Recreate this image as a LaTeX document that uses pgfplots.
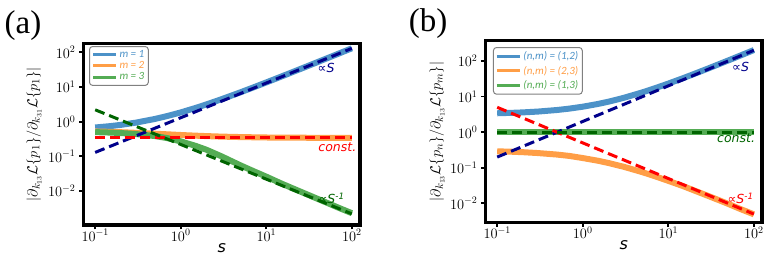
\documentclass[border=0pt]{standalone}
\usepackage{pgfplots}
\pgfplotsset{compat=1.18}
\usepackage{fontspec}
\setsansfont{Carlito}
\newfontfamily\panelfont{Liberation Serif}
\newfontfamily\labelfont{DejaVu Sans}

\definecolor{cblue}{RGB}{76,146,200}
\definecolor{corange}{RGB}{255,158,70}
\definecolor{cgreen}{RGB}{84,172,84}
\definecolor{navyd}{RGB}{0,0,139}
\definecolor{redd}{RGB}{255,0,0}
\definecolor{greend}{RGB}{0,100,0}

\pgfplotsset{
  every axis/.append style={
    scale only axis,
    width=276.5pt,
    xmin=0.073, xmax=124.5,
    axis line style={line width=3.5pt, black, line cap=rect},
    tick align=outside, tick pos=left,
    major tick length=4.5pt,
    every tick/.style={black, line width=1.8pt},
    xminorticks=false, yminorticks=false,
    xtick={0.1,1,10,100}, ytick={0.01,0.1,1,10,100},
    tick label style={font=\fontsize{14}{14}\selectfont},
    xticklabel style={yshift=3.5pt},
    xlabel={s},
    xlabel style={at={(axis description cs:0.5,0)}, anchor=center, yshift=-23pt,
      font=\labelfont\itshape\fontsize{16}{16}\selectfont},
    ylabel style={anchor=center, font=\fontsize{15}{15}\selectfont},
    legend style={anchor=north west, draw=gray, line width=1pt,
      rounded corners=3pt, fill=white, inner sep=2pt,
      font=\sffamily\itshape\fontsize{11}{11}\selectfont,
      cells={anchor=west}},
  },
  thickcurve/.style={line width=6pt, line cap=butt},
  guideline/.style={line width=3pt, dash pattern=on 10pt off 5pt, forget plot},
}
\pgfplotsset{legend image code/.code={\draw[#1, line width=3pt, solid] (0pt,0pt) -- (23pt,0pt);}}
\tikzset{note/.style={font=\labelfont\itshape\fontsize{12.5}{12.5}\selectfont}}

\begin{document}
\begin{tikzpicture}
\path[use as bounding box] (0pt,0pt) rectangle (776pt,261pt);

% ---------------- panel (a) ----------------
\begin{loglogaxis}[
  at={(83.5pt,36pt)}, anchor=south west,
  height=181.5pt,
  ymin=0.00105, ymax=179.5,
  ylabel={$|\partial_{k_{13}}\mathcal{L}\{p_1\}/\partial_{k_{31}}\mathcal{L}\{p_1\}|$},
  ylabel style={at={(axis description cs:-0.179,0.5)}},
  legend style={at={(axis description cs:0.02,0.986)}, row sep=-1.5pt},
]
\addplot[thickcurve, cblue] coordinates {
 (0.1,0.68) (0.15,0.745) (0.2,0.81) (0.3,0.94) (0.5,1.2) (0.7,1.46)
 (1,1.85) (1.5,2.5) (2,3.15) (3,4.45) (5,7.05) (7,9.65) (10,13.55)
 (15,20.05) (20,26.55) (30,39.55) (50,65.55) (70,91.55) (100,130.55)};
\addlegendentry{\textcolor{cblue}{m = 1}}
\addplot[thickcurve, corange] coordinates {
 (0.1,0.523) (0.15,0.509) (0.2,0.497) (0.3,0.477) (0.5,0.45) (0.7,0.432)
 (1,0.413) (1.5,0.395) (2,0.384) (3,0.371) (5,0.36) (7,0.355) (10,0.35)
 (15,0.347) (20,0.345) (30,0.344) (50,0.342) (70,0.3415) (100,0.341)};
\addlegendentry{\textcolor{corange}{m = 2}}
\addplot[thickcurve, cgreen] coordinates {
 (0.1,0.50) (0.15,0.485) (0.2,0.47) (0.3,0.44) (0.5,0.385) (0.7,0.335)
 (1,0.27) (1.5,0.2) (2,0.155) (3,0.1) (5,0.055) (7,0.038) (10,0.026)
 (15,0.0165) (20,0.0122) (30,0.008) (50,0.0047) (70,0.0033) (100,0.0023)};
\addlegendentry{\textcolor{cgreen}{m = 3}}
% asymptotes
\addplot[guideline, navyd] coordinates {(0.1,0.13) (100,130)};
\addplot[guideline, redd] coordinates {(0.1,0.34) (100,0.34)};
\addplot[guideline, greend] coordinates {(0.1,2.2) (100,0.0022)};
\node[note, navyd] at (axis cs:50,35) {∝S};
\node[note, redd] at (axis cs:67.6,0.186) {const.};
\node[note, greend] at (axis cs:58,0.0062) {∝S\textsuperscript{-1}};
\end{loglogaxis}

% ---------------- panel (b) ----------------
\begin{loglogaxis}[
  at={(485.5pt,38.5pt)}, anchor=south west,
  height=182pt,
  ymin=0.0029, ymax=377,
  ylabel={$|\partial_{k_{13}}\mathcal{L}\{p_n\}/\partial_{k_{13}}\mathcal{L}\{p_m\}|$},
  ylabel style={at={(axis description cs:-0.175,0.5)}},
  legend style={at={(axis description cs:0.027,0.964)}, row sep=1pt},
]
\addplot[thickcurve, cblue] coordinates {
 (0.1,3.4) (0.15,3.5) (0.2,3.6) (0.3,3.8) (0.5,4.2) (0.7,4.6)
 (1,5.2) (1.5,6.2) (2,7.2) (3,9.2) (5,13.2) (7,17.2) (10,23.2)
 (15,33.2) (20,43.2) (30,63.2) (50,103.2) (70,143.2) (100,203.2)};
\addlegendentry{\textcolor{cblue}{(n,m) = (1,2)}}
\addplot[thickcurve, corange] coordinates {
 (0.1,0.29) (0.15,0.282) (0.2,0.274) (0.3,0.259) (0.5,0.235) (0.7,0.215)
 (1,0.1875) (1.5,0.158) (2,0.136) (3,0.107) (5,0.075) (7,0.0577) (10,0.0429)
 (15,0.0303) (20,0.0231) (30,0.0158) (50,0.0097) (70,0.0069) (100,0.00492)};
\addlegendentry{\textcolor{corange}{(n,m) = (2,3)}}
\addplot[thickcurve, cgreen] coordinates {(0.1,1) (1,1) (10,1) (100,1)};
\addlegendentry{\textcolor{cgreen}{(n,m) = (1,3)}}
% asymptotes
\addplot[guideline, navyd] coordinates {(0.1,0.2) (100,200)};
\addplot[guideline, redd] coordinates {(0.1,5) (100,0.005)};
\addplot[guideline, greend] coordinates {(0.1,1) (100,1)};
\node[note, navyd] at (axis cs:70,68) {∝S};
\node[note, greend] at (axis cs:62,0.69) {const.};
\node[note, redd] at (axis cs:70,0.014) {∝S\textsuperscript{-1}};
\end{loglogaxis}

% panel letters
\node[font=\panelfont\fontsize{33}{33}\selectfont] at (23pt,235pt) {(a)};
\node[font=\panelfont\fontsize{33}{33}\selectfont] at (428pt,237pt) {(b)};
\end{tikzpicture}
\end{document}
